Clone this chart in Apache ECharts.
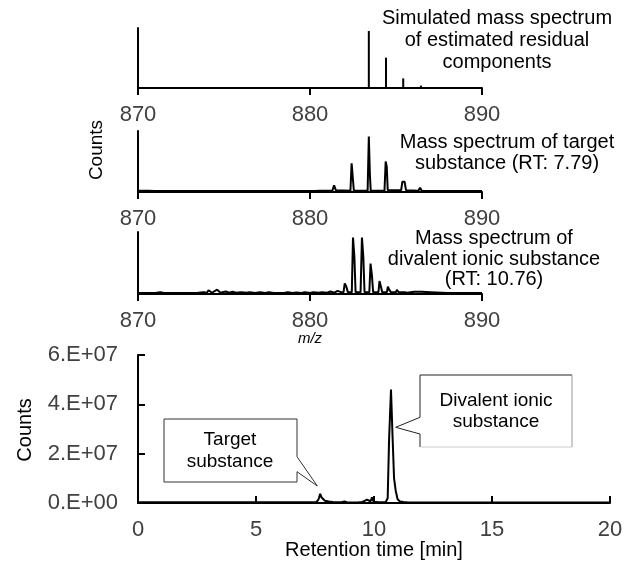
<!DOCTYPE html>
<html>
<head>
<meta charset="utf-8">
<script src="https://cdn.jsdelivr.net/npm/echarts@6/dist/echarts.min.js"></script>
<style>
html,body{margin:0;padding:0;background:#fff;}
#c{width:634px;height:570px;}
</style>
</head>
<body>
<div id="c"></div>
<script>
// ---- Data ----
// Spectrum 1: simulated stick spectrum (relative intensity)
const sim_mz  = [883.42, 884.42, 885.42, 886.45];
const sim_int = [0.95, 0.505, 0.16, 0.04];

// Spectrum 2: target substance (RT 7.79) profile
const tgt_mz  = [870.0, 870.4, 870.5, 870.6, 871.0, 873.2, 873.3, 873.4, 874.7, 874.8, 874.9, 875.2, 875.3, 875.4, 876.4, 876.5, 876.6, 879.3, 879.4, 879.5, 880.3, 880.4, 880.5, 880.7, 880.8, 880.9, 881.3, 881.4, 881.5, 882.35, 882.42, 882.48, 882.55, 883.35, 883.42, 883.48, 883.53, 884.33, 884.4, 884.46, 884.52, 885.3, 885.37, 885.44, 885.5, 885.58, 886.3, 886.4, 886.5, 887.0, 887.4, 887.5, 888.0, 890.0];
const tgt_int = [0.02, 0.02, 0.045, 0.02, 0.015, 0.015, 0.035, 0.015, 0.015, 0.035, 0.015, 0.015, 0.035, 0.015, 0.015, 0.03, 0.015, 0.015, 0.035, 0.015, 0.015, 0.04, 0.02, 0.02, 0.04, 0.02, 0.02, 0.11, 0.03, 0.02, 0.47, 0.44, 0.02, 0.02, 0.91, 0.3, 0.02, 0.02, 0.5, 0.42, 0.03, 0.03, 0.17, 0.15, 0.17, 0.03, 0.02, 0.07, 0.02, 0.015, 0.015, 0.03, 0.015, 0.015];

// Spectrum 3: divalent ionic substance (RT 10.76) profile
const div_mz  = [870.0, 871.0, 871.3, 871.5, 872.5, 873.5, 873.8, 874.0, 874.1, 874.3, 874.6, 874.8, 875.1, 875.3, 875.5, 875.7, 876.0, 876.3, 876.5, 876.8, 877.1, 877.4, 877.6, 877.9, 878.5, 878.7, 879.0, 879.2, 879.5, 879.7, 880.0, 880.2, 880.5, 880.7, 881.0, 881.2, 881.4, 881.6, 881.8, 881.95, 882.02, 882.1, 882.2, 882.43, 882.5, 882.58, 882.65, 882.94, 883.02, 883.1, 883.17, 883.45, 883.52, 883.6, 883.67, 883.98, 884.04, 884.12, 884.2, 884.47, 884.53, 884.6, 884.7, 885.0, 885.05, 885.15, 885.5, 885.55, 885.65, 886.05, 886.1, 886.5, 886.6, 887.0, 887.1, 888.0, 890.0];
const div_int = [0.015, 0.015, 0.03, 0.015, 0.015, 0.02, 0.03, 0.02, 0.06, 0.02, 0.07, 0.02, 0.04, 0.02, 0.035, 0.02, 0.03, 0.02, 0.03, 0.015, 0.03, 0.015, 0.03, 0.015, 0.015, 0.03, 0.015, 0.025, 0.015, 0.03, 0.015, 0.03, 0.02, 0.03, 0.02, 0.04, 0.02, 0.05, 0.03, 0.03, 0.17, 0.13, 0.03, 0.03, 0.91, 0.6, 0.03, 0.03, 0.91, 0.6, 0.03, 0.03, 0.49, 0.3, 0.03, 0.03, 0.21, 0.12, 0.03, 0.03, 0.12, 0.07, 0.03, 0.03, 0.065, 0.03, 0.03, 0.045, 0.02, 0.035, 0.02, 0.035, 0.02, 0.03, 0.015, 0.015, 0.015];

// Chromatogram
const rt_min = [0, 7.55, 7.65, 7.72, 7.78, 7.85, 7.92, 8.0, 8.08, 8.15, 8.25, 8.35, 8.5, 8.58, 8.65, 8.75, 8.85, 9.0, 9.3, 9.5, 9.6, 9.7, 9.78, 9.85, 9.92, 9.98, 10.05, 10.2, 10.5, 10.58, 10.64, 10.72, 10.79, 10.85, 10.92, 11.0, 11.1, 11.25, 11.4, 12, 20];
const rt_counts = [0.3e6, 0.3e6, 1.5e6, 3.7e6, 2.2e6, 1.4e6, 0.9e6, 1.2e6, 0.6e6, 0.9e6, 0.4e6, 0.3e6, 0.3e6, 0.8e6, 0.4e6, 0.6e6, 0.3e6, 0.2e6, 0.2e6, 0.4e6, 0.8e6, 1.4e6, 0.9e6, 0.7e6, 2.3e6, 0.5e6, 0.3e6, 0.3e6, 0.4e6, 2e6, 2.6e7, 4.6e7, 2.6e7, 1.0e7, 5e6, 1.5e6, 0.6e6, 0.4e6, 0.3e6, 0.2e6, 0.2e6];

const mzTicks = [870, 880, 890];
const countTickLabels = ['0.E+00', '2.E+07', '4.E+07', '6.E+07'];
const rtTicks = [0, 5, 10, 15, 20];

const spectrumTitles = [
  ['Simulated mass spectrum', 'of estimated residual', 'components'],
  ['Mass spectrum of target', 'substance (RT: 7.79)'],
  ['Mass spectrum of', 'divalent ionic substance', '(RT: 10.76)']
];
const calloutTarget = ['Target', 'substance'];
const calloutDiv = ['Divalent ionic', 'substance'];

// ---- Chart ----
const FONT = '"Liberation Sans", Arial, sans-serif';
const zip = (a, b) => a.map((v, i) => [v, b[i]]);

const specGrids = [
  {left: 138, top: 28, width: 344, height: 60},
  {left: 138, top: 131, width: 344, height: 61},
  {left: 138, top: 232, width: 344, height: 62}
];
const chromGrid = {left: 138, top: 355, width: 472, height: 148};

function specX(i) {
  return {
    type: 'value', gridIndex: i, min: mzTicks[0], max: mzTicks[mzTicks.length-1], interval: 10,
    axisLine: {show: true, onZero: false, lineStyle: {color: '#000', width: 2}},
    axisTick: {show: true, length: 7, lineStyle: {color: '#000', width: 2}},
    axisLabel: {show: true, margin: 16, color: '#404040', fontSize: 22, fontFamily: FONT},
    splitLine: {show: false}
  };
}
function specY(i) {
  return {
    type: 'value', gridIndex: i, min: 0, max: 1,
    axisLine: {show: true, lineStyle: {color: '#000', width: 2}},
    axisTick: {show: false}, axisLabel: {show: false}, splitLine: {show: false}
  };
}

const option = {
  animation: false,
  backgroundColor: '#fff',
  grid: [...specGrids, chromGrid],
  xAxis: [specX(0), specX(1), specX(2), {
    type: 'value', gridIndex: 3, min: rtTicks[0], max: rtTicks[rtTicks.length-1], interval: 5,
    axisLine: {show: true, onZero: false, lineStyle: {color: '#000', width: 2}},
    axisTick: {show: true, inside: true, length: 7, lineStyle: {color: '#000', width: 2}},
    axisLabel: {show: true, margin: 16, color: '#404040', fontSize: 22, fontFamily: FONT},
    splitLine: {show: false}
  }],
  yAxis: [specY(0), specY(1), specY(2), {
    type: 'value', gridIndex: 3, min: 0, max: 6e7, interval: 2e7,
    axisLine: {show: true, lineStyle: {color: '#000', width: 2}},
    axisTick: {show: true, inside: true, length: 7, lineStyle: {color: '#000', width: 2}},
    axisLabel: {show: true, margin: 20, color: '#404040', fontSize: 22, fontFamily: FONT,
      formatter: (v) => countTickLabels[Math.round(v / 2e7)]},
    splitLine: {show: false}
  }],
  series: [
    {type: 'bar', xAxisIndex: 0, yAxisIndex: 0, data: zip(sim_mz, sim_int), barWidth: 2,
     itemStyle: {color: '#000'}, silent: true},
    {type: 'line', xAxisIndex: 1, yAxisIndex: 1, data: zip(tgt_mz, tgt_int), showSymbol: false,
     lineStyle: {color: '#000', width: 2}, silent: true},
    {type: 'line', xAxisIndex: 2, yAxisIndex: 2, data: zip(div_mz, div_int), showSymbol: false,
     lineStyle: {color: '#000', width: 2}, silent: true},
    {type: 'line', xAxisIndex: 3, yAxisIndex: 3, data: zip(rt_min, rt_counts), showSymbol: false,
     lineStyle: {color: '#000', width: 2}, silent: true}
  ]
};

function txt(text, x, y, opts) {
  return Object.assign({
    type: 'text', x: x, y: y, silent: true,
    style: Object.assign({text: text, textAlign: 'center', textVerticalAlign: 'middle',
      font: '19px ' + FONT, fill: '#000'}, (opts && opts.style) || {})
  }, (opts && opts.extra) || {});
}

const graphics = [];
// spectrum titles
const titlePos = [
  {x: 497, ys: [18, 40, 62]},
  {x: 507, ys: [142, 163]},
  {x: 494, ys: [238, 259, 279]}
];
spectrumTitles.forEach((lines, k) => {
  lines.forEach((l, j) => graphics.push(txt(l, titlePos[k].x, titlePos[k].ys[j], {style: {font: '20px ' + FONT}})));
});
// axis names
graphics.push(txt('Counts', 97, 150, {extra: {rotation: Math.PI / 2}}));
graphics.push(txt('m/z', 310, 339, {style: {font: 'italic 15px ' + FONT}}));
graphics.push(txt('Counts', 25, 430, {style: {font: '20px ' + FONT}, extra: {rotation: Math.PI / 2}}));
graphics.push(txt('Retention time [min]', 374, 550, {style: {font: '20px ' + FONT}}));

// callouts
graphics.push({
  type: 'polygon', silent: true,
  shape: {points: [[164, 419], [297, 419], [297, 456.7], [317.3, 486], [297, 471.7], [297, 482], [164, 482]]},
  style: {fill: '#fff', stroke: '#333', lineWidth: 1}
});
graphics.push(txt(calloutTarget[0], 230, 440));
graphics.push(txt(calloutTarget[1], 230, 462));

graphics.push({
  type: 'rect', silent: true, shape: {x: 420, y: 375, width: 152, height: 72},
  style: {fill: '#fff', stroke: null}
});
graphics.push({
  type: 'polyline', silent: true,
  shape: {points: [[420, 447], [420, 434], [395.7, 427.3], [420, 417.3], [420, 375], [572, 375]]},
  style: {fill: null, stroke: '#222', lineWidth: 1}
});
graphics.push({type: 'line', silent: true, shape: {x1: 572, y1: 375, x2: 572, y2: 447}, style: {stroke: '#999', lineWidth: 1}});
graphics.push({type: 'line', silent: true, shape: {x1: 420, y1: 447, x2: 572, y2: 447}, style: {stroke: '#ccc', lineWidth: 1}});
graphics.push(txt(calloutDiv[0], 496, 401));
graphics.push(txt(calloutDiv[1], 496, 422));

option.graphic = graphics;

const chart = echarts.init(document.getElementById('c'), null, {renderer: 'canvas'});
chart.setOption(option);
</script>
</body>
</html>
